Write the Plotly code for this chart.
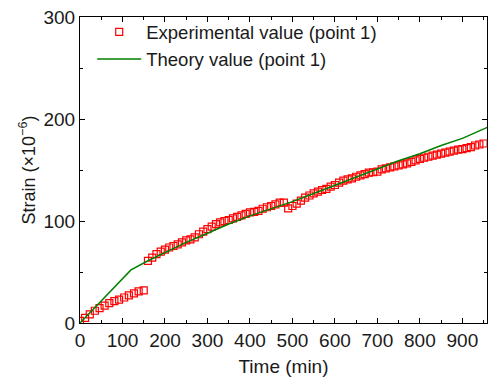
import plotly.graph_objects as go

# Experimental value (point 1)
exp_time_a = [0, 12, 23, 35, 46, 58, 69, 81, 92, 104, 115, 127, 138, 150]
exp_strain_a = [2, 5, 8.5, 12, 14.5, 17, 19.5, 21.5, 23, 25, 27, 29, 31, 32]

exp_time_b = [160, 170, 180, 190, 200, 210, 220, 230, 240, 250, 260, 270, 280, 290,
              300, 310, 320, 330, 340, 350, 360, 370, 380, 390, 400, 410, 420, 430,
              440, 450, 460, 470, 480, 490, 500, 510, 520, 530, 540, 550, 560, 570,
              580, 590, 600, 610, 620, 630, 640, 650, 660, 670, 680, 690, 700, 710,
              720, 730, 740, 750, 760, 770, 780, 790, 800, 810, 820, 830, 840, 850,
              860, 870, 880, 890, 900, 910, 920, 930, 940, 950]
exp_strain_b = [61, 64, 67.5, 70, 72, 74, 75.5, 77, 79, 81, 82, 84, 87, 89.5,
                92, 94.5, 97, 98.7, 100, 101, 102.6, 104, 105.5, 107, 108.5, 109, 110, 112,
                113.5, 114.7, 116.3, 118, 118, 112.4, 114.7, 117, 120, 123, 125, 127, 128.8, 130.4,
                131.4, 133.7, 135.3, 137.6, 139.5, 140.9, 141.8, 143.4, 144.8, 146, 147.4, 147.8, 148.4, 150.6,
                151.5, 152.5, 153.5, 154.5, 155.5, 156.5, 158, 159.5, 161, 162, 163, 164, 165, 166,
                167, 168, 169, 170, 170.5, 171.5, 172.5, 174, 175, 176]

# Theory value (point 1)
theory_time = [0, 120, 160, 200, 250, 300, 350, 400, 450, 500, 550, 600, 650, 700,
               750, 800, 850, 900, 960]
theory_strain = [0, 52, 61, 69, 79, 88, 97, 105, 112, 119, 127, 135, 143, 151,
                 159, 166, 174, 181, 192]

x_ticks = [0, 100, 200, 300, 400, 500, 600, 700, 800, 900]
y_ticks = [0, 100, 200, 300]

FONT = "Liberation Sans, Arial, sans-serif"
TXT = "#1a1a1a"

fig = go.Figure()
fig.add_trace(go.Scatter(
    x=exp_time_a + exp_time_b, y=exp_strain_a + exp_strain_b,
    mode="markers", name="Experimental value (point 1)",
    marker=dict(symbol="square-open", size=7, color="#ff0000",
                line=dict(width=1.2, color="#ff0000")),
))
fig.add_trace(go.Scatter(
    x=theory_time, y=theory_strain, mode="lines",
    name="Theory value (point 1)",
    line=dict(color="#008000", width=1.5),
))

axis_common = dict(
    showline=True, linecolor="black", linewidth=1, mirror="ticks",
    ticks="inside", ticklen=5, tickwidth=1, tickcolor="black",
    showgrid=False, zeroline=False,
    tickfont=dict(family=FONT, size=19, color=TXT),
)

fig.update_xaxes(
    **axis_common, range=[0, 958], tickvals=x_ticks,
    minor=dict(ticks="inside", dtick=50, ticklen=3, tickcolor="black", showgrid=False),
    title=dict(text="Time (min)", font=dict(family=FONT, size=19, color=TXT), standoff=9),
)
fig.update_yaxes(
    **axis_common, range=[0, 300], tickvals=y_ticks,
    minor=dict(ticks="inside", dtick=50, ticklen=3, tickcolor="black", showgrid=False),
    title=dict(text="Strain (×10<sup>−6</sup>)", font=dict(family=FONT, size=18, color=TXT), standoff=3),
)

fig.update_layout(
    width=489, height=380,
    margin=dict(l=80, r=2, t=17, b=57),
    plot_bgcolor="white", paper_bgcolor="white",
    legend=dict(x=0.03, y=1.012, xanchor="left", yanchor="top",
                bgcolor="rgba(0,0,0,0)", font=dict(family=FONT, size=18.5, color=TXT),
                itemwidth=44, tracegroupgap=0),
    showlegend=True,
)

fig.write_html("out.html")
